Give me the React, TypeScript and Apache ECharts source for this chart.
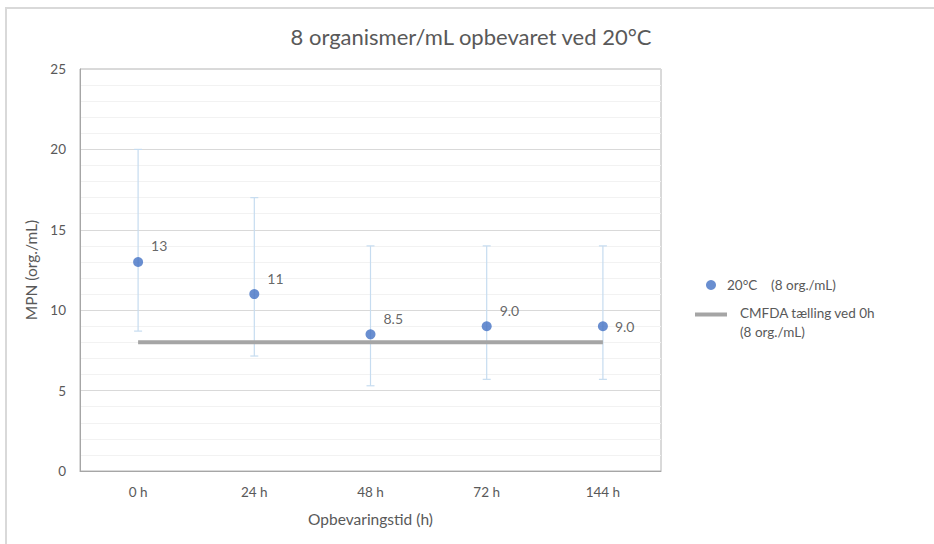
import React, { useEffect, useRef } from "react";
import * as echarts from "echarts";

const categories = ["0 h", "24 h", "48 h", "72 h", "144 h"];
const mpnValues = [13, 11, 8.5, 9.0, 9.0];
const mpnLabels = ["13", "11", "8.5", "9.0", "9.0"];
const errLow = [8.7, 7.15, 5.3, 5.7, 5.7];
const errHigh = [20, 17.0, 14.0, 14.0, 14.0];
const cmfdaValues = [8, 8, 8, 8, 8];
const yTicks = [0, 5, 10, 15, 20, 25];

const FONT = "Lato, 'Open Sans', sans-serif";
const TXT = "#595959";
const LINE_NAME = "CMFDA tælling ved 0h\n(8 org./mL)";

export default function App() {
  const ref = useRef<HTMLDivElement>(null);
  useEffect(() => {
    if (!ref.current) return;
    const chart = echarts.init(ref.current, undefined, { renderer: "svg" });
    const errData = categories.map((_, i) => [i, errLow[i], errHigh[i]]);
    const scatterData = mpnValues.map((v, i) => ({
      value: v,
      label: {
        show: true,
        formatter: mpnLabels[i],
        position: "right",
        offset: i === 4 ? [2, 0] : [3, -16],
      },
    }));
    chart.setOption({
      animation: false,
      backgroundColor: "#ffffff",
      textStyle: { fontFamily: FONT },
      title: {
        text: "8 organismer/mL opbevaret ved 20°C",
        left: 466,
        top: 20,
        textAlign: "center",
        textStyle: { fontFamily: FONT, fontSize: 22, fontWeight: "normal", color: TXT },
      },
      graphic: [
        { type: "line", shape: { x1: 5, y1: 8, x2: 934, y2: 8 }, style: { stroke: "#d9d9d9", lineWidth: 2 }, silent: true },
        { type: "line", shape: { x1: 6, y1: 8, x2: 6, y2: 544 }, style: { stroke: "#d9d9d9", lineWidth: 2 }, silent: true },
      ],
      grid: {
        left: 80,
        right: 273,
        top: 69,
        bottom: 73,
        show: true,
        borderColor: "#b4b4b4",
        borderWidth: 1,
        containLabel: false,
      },
      legend: [
        {
          orient: "vertical",
          left: 701,
          top: 273,
          itemWidth: 10,
          itemHeight: 10,
          data: [{ name: "20°C    (8 org./mL)", icon: "circle" }],
          textStyle: { fontFamily: FONT, fontSize: 13.5, color: TXT, padding: [0, 0, 0, 6] },
        },
        {
          orient: "vertical",
          left: 690,
          top: 283,
          itemWidth: 32,
          itemHeight: 4,
          data: [{ name: LINE_NAME, icon: "rect" }],
          formatter: (name: string) => {
            const parts = name.split("\n");
            return "{s| }\n" + parts.map((p) => "{a|" + p + "}").join("\n");
          },
          textStyle: {
            fontFamily: FONT,
            fontSize: 13.5,
            color: TXT,
            padding: [0, 0, 0, 8],
            rich: {
              s: { height: 15, lineHeight: 15, fontSize: 10 },
              a: { fontFamily: FONT, fontSize: 13.5, color: TXT, lineHeight: 19, height: 19 },
            },
          },
        },
      ],
      xAxis: {
        type: "category",
        data: categories,
        boundaryGap: true,
        name: "Opbevaringstid (h)",
        nameLocation: "middle",
        nameGap: 40,
        nameTextStyle: { fontFamily: FONT, fontSize: 15.5, color: TXT },
        axisLine: { show: true, lineStyle: { color: "#a6a6a6", width: 1 } },
        axisTick: { show: false },
        axisLabel: { fontFamily: FONT, fontSize: 13.5, color: TXT, margin: 14 },
        splitLine: { show: false },
      },
      yAxis: {
        type: "value",
        min: yTicks[0],
        max: yTicks[yTicks.length - 1],
        interval: 5,
        name: "MPN (org./mL)",
        nameLocation: "middle",
        nameGap: 37,
        nameTextStyle: { fontFamily: FONT, fontSize: 15.5, color: TXT },
        axisLine: { show: true, lineStyle: { color: "#a6a6a6", width: 1 } },
        axisTick: { show: false },
        axisLabel: { fontFamily: FONT, fontSize: 13.5, color: TXT, margin: 14 },
        splitLine: { show: true, lineStyle: { color: "#d9d9d9", width: 1 } },
        minorTick: { show: false, splitNumber: 5 },
        minorSplitLine: { show: true, lineStyle: { color: "#f2f2f2", width: 1 } },
      },
      series: [
        {
          name: LINE_NAME,
          type: "line",
          data: cmfdaValues,
          showSymbol: false,
          symbol: "none",
          lineStyle: { color: "#a5a5a5", width: 4 },
          itemStyle: { color: "#a5a5a5" },
          z: 2,
        },
        {
          name: "errorbars",
          type: "custom",
          data: errData,
          z: 1,
          renderItem: (params: any, api: any) => {
            const x = api.value(0);
            const lo = api.coord([x, api.value(1)]);
            const hi = api.coord([x, api.value(2)]);
            const hw = 4;
            const style = { stroke: "#c6dcf0", lineWidth: 1.2 };
            return {
              type: "group",
              children: [
                { type: "line", shape: { x1: lo[0], y1: lo[1], x2: hi[0], y2: hi[1] }, style },
                { type: "line", shape: { x1: lo[0] - hw, y1: lo[1], x2: lo[0] + hw, y2: lo[1] }, style },
                { type: "line", shape: { x1: hi[0] - hw, y1: hi[1], x2: hi[0] + hw, y2: hi[1] }, style },
              ],
            };
          },
        },
        {
          name: "20°C    (8 org./mL)",
          type: "scatter",
          data: scatterData,
          symbol: "circle",
          symbolSize: 10,
          itemStyle: { color: "#4472c4" },
          label: { fontFamily: FONT, fontSize: 14, color: "#404040" },
          z: 3,
        },
      ],
    });
    return () => chart.dispose();
  }, []);
  return (
    <div
      ref={ref}
      style={{ position: "fixed", left: 0, top: 0, width: 934, height: 544 }}
    />
  );
}
